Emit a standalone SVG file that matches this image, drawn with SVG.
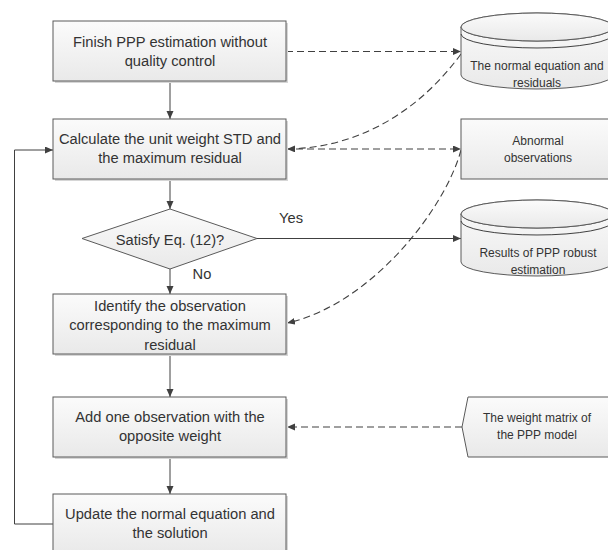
<svg xmlns="http://www.w3.org/2000/svg" width="608" height="550" viewBox="0 0 608 550">
  <defs>
    <linearGradient id="fillGrad" x1="0" y1="0" x2="0" y2="1">
      <stop offset="0" stop-color="#fbfbfb"/>
      <stop offset="1" stop-color="#e9e9e9"/>
    </linearGradient>
    <marker id="arrow" markerUnits="userSpaceOnUse" markerWidth="9" markerHeight="8" refX="8" refY="3.5" orient="auto">
      <path d="M0,0 L8,3.5 L0,7 z" fill="#404040"/>
    </marker>
    <style>
      .shape { fill: url(#fillGrad); stroke: #5a5a5a; stroke-width: 1; }
      .shadow { fill: #d6d6d6; }
      .lbl { font-family: "Liberation Sans", Arial, sans-serif; font-size: 14.7px; fill: #333333; text-anchor: middle; }
      .lblS { font-family: "Liberation Sans", Arial, sans-serif; font-size: 12px; fill: #333333; text-anchor: middle; }
      .line { fill: none; stroke: #404040; stroke-width: 1; }
      .dash { fill: none; stroke: #404040; stroke-width: 1.1; stroke-dasharray: 7 4; }
    </style>
  </defs>

  <rect width="608" height="550" fill="#ffffff"/>

  <!-- connectors -->
  <g id="connectors">
    <line class="line" x1="170" y1="81" x2="170" y2="119" marker-end="url(#arrow)"/>
    <line class="line" x1="170" y1="179" x2="170" y2="209" marker-end="url(#arrow)"/>
    <line class="line" x1="170" y1="269" x2="170" y2="294" marker-end="url(#arrow)"/>
    <line class="line" x1="170" y1="354" x2="170" y2="397" marker-end="url(#arrow)"/>
    <line class="line" x1="170" y1="457" x2="170" y2="494" marker-end="url(#arrow)"/>
    <line class="line" x1="257" y1="238.5" x2="461" y2="238.5" marker-end="url(#arrow)"/>
    <polyline class="line" points="53,524 14.5,524 14.5,150 53,150" marker-end="url(#arrow)"/>

    <line class="dash" x1="286" y1="51.5" x2="461" y2="51.5" marker-end="url(#arrow)"/>
    <path class="dash" d="M461,54 C420,110 360,148 287,149" marker-end="url(#arrow)"/>
    <line class="dash" x1="296" y1="149" x2="461" y2="149" marker-end="url(#arrow)"/>
    <path class="dash" d="M461,150 C445,210 370,305 287,323" marker-end="url(#arrow)"/>
    <line class="dash" x1="462" y1="427" x2="287" y2="427" marker-end="url(#arrow)"/>

    <text class="lbl" x="291" y="223">Yes</text>
    <text class="lbl" x="202" y="279">No</text>
  </g>

  <!-- main flow -->
  <g id="finish">
    <rect class="shadow" x="55" y="23" width="233" height="60"/>
    <rect class="shape" x="53" y="21" width="233" height="60"/>
    <text class="lbl" x="170" y="46.5">Finish PPP estimation without</text>
    <text class="lbl" x="170" y="66">quality control</text>
  </g>

  <g id="calculate">
    <rect class="shadow" x="55" y="121" width="233" height="60"/>
    <rect class="shape" x="53" y="119" width="233" height="60"/>
    <text class="lbl" x="170" y="143.5">Calculate the unit weight STD and</text>
    <text class="lbl" x="170" y="163">the maximum residual</text>
  </g>

  <g id="satisfy">
    <polygon class="shape" points="170,209 257,238.5 170,269 82,238.5"/>
    <text class="lbl" x="170" y="245">Satisfy Eq. (12)?</text>
  </g>

  <g id="identify">
    <rect class="shadow" x="55" y="296" width="233" height="60"/>
    <rect class="shape" x="53" y="294" width="233" height="60"/>
    <text class="lbl" x="170" y="310.5">Identify the observation</text>
    <text class="lbl" x="170" y="330">corresponding to the maximum</text>
    <text class="lbl" x="170" y="349.5">residual</text>
  </g>

  <g id="add">
    <rect class="shadow" x="55" y="399" width="233" height="60"/>
    <rect class="shape" x="53" y="397" width="233" height="60"/>
    <text class="lbl" x="170" y="421.5">Add one observation with the</text>
    <text class="lbl" x="170" y="441">opposite weight</text>
  </g>

  <g id="update">
    <rect class="shadow" x="55" y="496" width="233" height="60"/>
    <rect class="shape" x="53" y="494" width="233" height="60"/>
    <text class="lbl" x="170" y="518.5">Update the normal equation and</text>
    <text class="lbl" x="170" y="538">the solution</text>
  </g>

  <!-- data stores and side inputs -->
  <g id="normal-equation">
    <path class="shape" d="M461,27 L461,75 A76,14 0 0 0 613,75 L613,27 A76,14 0 0 0 461,27 Z"/>
    <path class="line" d="M461,27 A76,14 0 0 0 613,27 M461,34 A76,14 0 0 0 613,34" stroke="#5a5a5a"/>
    <ellipse class="shape" cx="537" cy="27" rx="76" ry="14"/>
    <text class="lblS" x="537" y="70">The normal equation and</text>
    <text class="lblS" x="537" y="87">residuals</text>
  </g>

  <g id="abnormal">
    <rect class="shape" x="461" y="119" width="155" height="60"/>
    <text class="lblS" x="538" y="145">Abnormal</text>
    <text class="lblS" x="538" y="162">observations</text>
  </g>

  <g id="results">
    <path class="shape" d="M461,214 L461,262 A76,14 0 0 0 613,262 L613,214 A76,14 0 0 0 461,214 Z"/>
    <path class="line" d="M461,214 A76,14 0 0 0 613,214 M461,221 A76,14 0 0 0 613,221" stroke="#5a5a5a"/>
    <ellipse class="shape" cx="537" cy="214" rx="76" ry="14"/>
    <text class="lblS" x="538" y="257">Results of PPP robust</text>
    <text class="lblS" x="538" y="274">estimation</text>
  </g>

  <g id="weight-matrix">
    <polygon class="shape" points="462,427 468,397 616,397 616,457 468,457"/>
    <text class="lblS" x="537" y="422">The weight matrix of</text>
    <text class="lblS" x="537" y="439">the PPP model</text>
  </g>
</svg>
